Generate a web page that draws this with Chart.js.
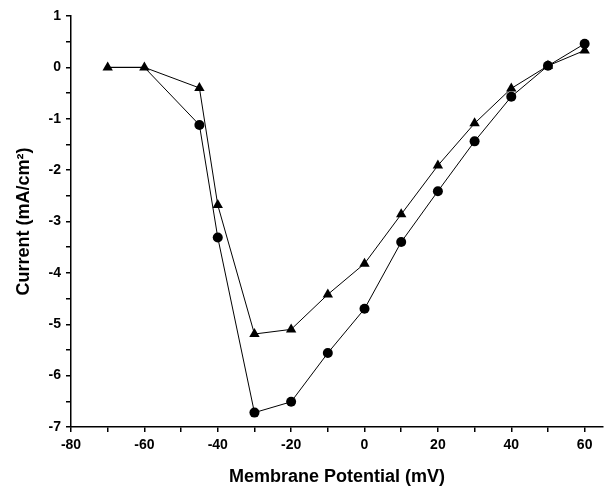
<!DOCTYPE html>
<html>
<head>
<meta charset="utf-8">
<script src="https://cdn.jsdelivr.net/npm/chart.js@4"></script>
<style>
html,body{margin:0;padding:0;background:#fff;}
#wrap{width:609px;height:489px;position:relative;}
</style>
</head>
<body>
<div id="wrap"><canvas id="c" width="609" height="489"></canvas></div>
<script>
const voltages = [-70, -60, -45, -40, -30, -20, -10, 0, 10, 20, 30, 40, 50, 60];
const circleCurrent = [0, 0, -1.12, -3.31, -6.72, -6.51, -5.56, -4.70, -3.40, -2.41, -1.44, -0.57, 0.03, 0.46];
const triangleCurrent = [0, 0, -0.40, -2.68, -5.19, -5.10, -4.42, -3.82, -2.86, -1.91, -1.09, -0.41, 0.03, 0.33];
const xTicks = [-80, -70, -60, -50, -40, -30, -20, -10, 0, 10, 20, 30, 40, 50, 60];
const yTicks = [-7, -6.5, -6, -5.5, -5, -4.5, -4, -3.5, -3, -2.5, -2, -1.5, -1, -0.5, 0, 0.5, 1];

const toPts = (ys) => voltages.map((v, i) => ({x: v, y: ys[i]}));
const fontTick = {family: '"Liberation Sans", Arial, sans-serif', size: 14, weight: 'bold'};
const fontTitle = {family: '"Liberation Sans", Arial, sans-serif', size: 18, weight: 'bold'};

new Chart(document.getElementById('c'), {
  type: 'scatter',
  data: {
    datasets: [
      {data: toPts(triangleCurrent), order: 0, showLine: true, borderColor: '#000', borderWidth: 1,
       backgroundColor: '#000', pointStyle: 'triangle', pointRadius: 6, pointBorderWidth: 0},
      {data: toPts(circleCurrent), order: 1, showLine: true, borderColor: '#000', borderWidth: 1,
       backgroundColor: '#000', pointStyle: 'circle', pointBorderWidth: 0,
       pointRadius: (ctx) => (ctx.dataIndex < 2 ? 0 : 5)}
    ]
  },
  options: {
    responsive: false,
    animation: false,
    devicePixelRatio: 1,
    layout: {padding: {left: 0, right: 6, top: 16, bottom: 0}},
    plugins: {legend: {display: false}, tooltip: {enabled: false}},
    scales: {
      x: {
        type: 'linear', min: -80, max: 65,
        afterBuildTicks: (s) => { s.ticks = xTicks.map(v => ({value: v})); },
        afterFit: (s) => { s.height = 62; },
        ticks: {color: '#000', font: fontTick, padding: 5, maxRotation: 0,
          callback: (v) => (v % 20 === 0 ? String(v) : '')},
        grid: {drawOnChartArea: false, tickLength: 5, color: '#000', tickColor: '#000', lineWidth: 1.5},
        border: {display: true, color: '#000', width: 1.5},
        title: {display: true, text: 'Membrane Potential (mV)', color: '#000', font: fontTitle, padding: {top: 0, bottom: 1}}
      },
      y: {
        type: 'linear', min: -7, max: 1,
        afterBuildTicks: (s) => { s.ticks = yTicks.map(v => ({value: v})); },
        afterFit: (s) => { s.width = 71; },
        ticks: {color: '#000', font: fontTick, padding: 5,
          callback: (v) => (Number.isInteger(v) ? String(v) : '')},
        grid: {drawOnChartArea: false, tickLength: 5, color: '#000', tickColor: '#000', lineWidth: 1.5},
        border: {display: true, color: '#000', width: 1.5},
        title: {display: true, text: 'Current (mA/cm²)', color: '#000', font: fontTitle, padding: {top: 13, bottom: 0}}
      }
    }
  }
});
</script>
</body>
</html>
